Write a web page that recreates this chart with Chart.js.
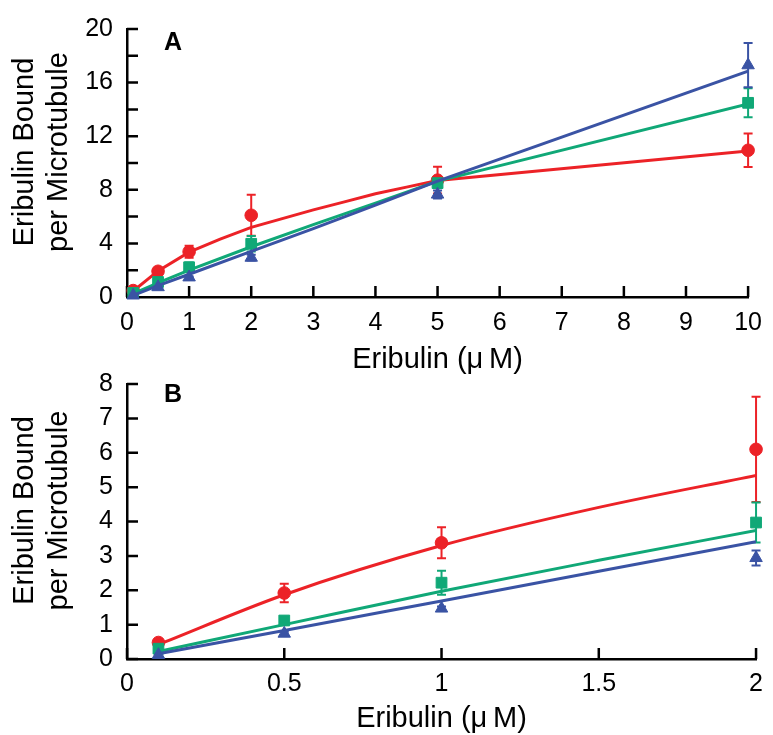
<!DOCTYPE html>
<html>
<head>
<meta charset="utf-8">
<title>Eribulin binding</title>
<script src="https://cdn.jsdelivr.net/npm/chart.js@4.4.1/dist/chart.umd.min.js"></script>
<style>
  html, body { margin: 0; padding: 0; background: #fff; }
  #wrap { position: relative; width: 773px; height: 735px; overflow: hidden; }
  canvas { position: absolute; left: 0; }
  #chartA { top: 0; }
  #chartB { top: 355px; }
</style>
</head>
<body>
<div id="wrap">
  <canvas id="chartA" width="773" height="380"></canvas>
  <canvas id="chartB" width="773" height="380"></canvas>
</div>
<script>
// measured points (mean +/- error), same for both panels
const conc = [0.1, 0.5, 1, 2, 5, 10];

const redMean = [0.48, 1.92, 3.38, 6.1, 8.72, 10.95];
const redErr = [0.05, 0.27, 0.45, 1.53, 1.0, 1.25];
const greenMean = [0.3, 1.12, 2.22, 3.97, 8.5, 14.49];
const greenErr = [0.05, 0.1, 0.35, 0.58, 0.3, 1.08];
const blueMean = [0.12, 0.74, 1.47, 2.94, 7.65, 17.3];
const blueErr = [0, 0.05, 0.06, 0.22, 0.3, 1.65];

// fitted curves
const redFitXA = [0.1, 0.5, 1, 1.5, 2, 2.5, 3, 3.5, 4, 4.5, 5, 10];
const redFitA = [0.45, 1.95, 3.35, 4.32, 5.2, 5.85, 6.5, 7.1, 7.7, 8.2, 8.7, 10.9];
const fitXA = [0.1, 0.5, 1, 2, 3, 4, 5, 10];
const greenFitA = [0.25, 1.05, 2.0, 3.75, 5.4, 7.0, 8.65, 14.4];
const blueFitA = [0.12, 0.85, 1.7, 3.4, 5.1, 6.85, 8.65, 16.85];

// fitted curves
const fitXB = [0.1, 0.5, 1, 1.5, 2];
const redFitB = [0.42, 1.87, 3.3, 4.41, 5.34];
const greenFitB = [0.22, 1.0, 1.97, 2.87, 3.74];
const blueFitB = [0.15, 0.83, 1.69, 2.55, 3.41];

const xTitle = 'Eribulin (μ\u2009M)';
const yTitle = ['Eribulin Bound', 'per Microtubule'];

const RED = '#ec2227';
const GREEN = '#10a877';
const BLUE = '#3a53a4';
const FONT = '"Liberation Sans", Arial, Helvetica, sans-serif';

Chart.defaults.font.family = FONT;
Chart.defaults.color = '#000';

// error bars drawn just before each marker dataset
const errorBars = {
    id: 'errorBars',
    beforeDatasetDraw(chart, args) {
        const ds = chart.data.datasets[args.index];
        if (!ds.errors) return;
        const ctx = chart.ctx;
        const ys = chart.scales.y;
        ctx.save();
        ctx.strokeStyle = ds.borderColor;
        ctx.lineWidth = 2;
        args.meta.data.forEach((pt, i) => {
            const e = ds.errors[i];
            if (!e) return;
            const v = ds.data[i].y;
            const top = ys.getPixelForValue(v + e);
            const bot = ys.getPixelForValue(v - e);
            ctx.beginPath();
            ctx.moveTo(pt.x, top); ctx.lineTo(pt.x, bot);
            ctx.moveTo(pt.x - 4.5, top); ctx.lineTo(pt.x + 4.5, top);
            ctx.moveTo(pt.x - 4.5, bot); ctx.lineTo(pt.x + 4.5, bot);
            ctx.stroke();
        });
        ctx.restore();
    }
};

// tick marks pointing into the plot
const innerTicks = {
    id: 'innerTicks',
    beforeDatasetsDraw(chart) {
        const {ctx, chartArea: a, scales: {x, y}} = chart;
        ctx.save();
        ctx.strokeStyle = '#000';
        ctx.lineWidth = 2.5;
        ctx.beginPath();
        x.ticks.forEach(t => {
            const p = x.getPixelForValue(t.value);
            ctx.moveTo(p, a.bottom); ctx.lineTo(p, a.bottom - 11);
        });
        y.ticks.forEach(t => {
            const p = y.getPixelForValue(t.value);
            ctx.moveTo(a.left, p); ctx.lineTo(a.left + 11, p);
        });
        ctx.stroke();
        ctx.restore();
    }
};

// panel letter (A / B) and the two-line rotated y title
const panelText = {
    id: 'panelText',
    afterDraw(chart, args, opts) {
        const {ctx, chartArea: a} = chart;
        ctx.save();
        ctx.fillStyle = '#000';
        ctx.textBaseline = 'alphabetic';
        ctx.font = 'bold 25px ' + FONT;
        ctx.fillText(opts.text, a.left + opts.dx, a.top + opts.dy);

        ctx.font = '29px ' + FONT;
        ctx.textAlign = 'center';
        ctx.translate(33, (a.top + a.bottom) / 2 - 11);
        ctx.rotate(-Math.PI / 2);
        yTitle.forEach((line, i) => ctx.fillText(line, 0, i * 34));
        ctx.restore();
    }
};

function fitSet(xs, ys, color, mode) {
    return {
        data: xs.map((x, i) => ({x: x, y: ys[i]})),
        showLine: true,
        borderColor: color,
        borderWidth: 3,
        pointRadius: 0,
        tension: 0,
        cubicInterpolationMode: mode
    };
}

function pointSet(ys, errs, color, style, radius, xmax) {
    const data = [];
    const errors = [];
    conc.forEach((x, i) => {
        if (x <= xmax) {
            data.push({x: x, y: ys[i]});
            errors.push(errs[i]);
        }
    });
    return {
        data: data,
        errors: errors,
        showLine: false,
        backgroundColor: color,
        borderColor: color,
        pointStyle: style,
        pointRadius: radius,
        pointBorderWidth: 1,
        clip: false
    };
}

function makeChart(id, p) {
    // red under green under blue: earlier dataset gets larger order
    const sets = [
        fitSet(p.redX, p.redFit, RED, p.mode),
        pointSet(redMean, redErr, RED, 'circle', 6.3, p.xmax),
        fitSet(p.fitX, p.greenFit, GREEN, p.mode),
        pointSet(greenMean, greenErr, GREEN, 'rect', 7.6, p.xmax),
        fitSet(p.fitX, p.blueFit, BLUE, p.mode),
        pointSet(blueMean, blueErr, BLUE, 'triangle', 7.2, p.xmax)
    ];
    sets.forEach((s, i) => { s.order = 100 - i; });

    return new Chart(document.getElementById(id), {
        type: 'scatter',
        data: { datasets: sets },
        options: {
            responsive: false,
            animation: false,
            events: [],
            layout: { padding: { top: p.padTop, right: 16, left: 0, bottom: p.padBottom } },
            plugins: {
                legend: { display: false },
                tooltip: { enabled: false },
                panelText: { text: p.label, dx: 37, dy: p.labelDy }
            },
            scales: {
                x: {
                    type: 'linear',
                    min: 0, max: p.xmax,
                    afterFit: s => { s.height = p.xHeight; },
                    grid: { display: true, drawOnChartArea: false, drawTicks: false },
                    border: { display: true, color: '#000', width: 2.5 },
                    ticks: { stepSize: p.xStep, autoSkip: false, maxRotation: 0, padding: p.xTickPad,
                             font: { size: 25 }, color: '#000', callback: v => String(v) },
                    title: { display: true, text: xTitle, font: { size: 29, lineHeight: 1 },
                             padding: { top: 0, bottom: p.xTitlePad }, color: '#000' }
                },
                y: {
                    type: 'linear',
                    min: 0, max: p.ymax,
                    afterFit: s => { s.width = 127; },
                    grid: { display: true, drawOnChartArea: false, drawTicks: false },
                    border: { display: true, color: '#000', width: 2.5 },
                    ticks: { stepSize: p.yStep, autoSkip: false, padding: 14, font: { size: 25 }, color: '#000',
                             callback: v => (v % p.yLabelEvery === 0 ? String(v) : '') }
                }
            }
        },
        plugins: [errorBars, innerTicks, panelText]
    });
}

makeChart('chartA', {
    label: 'A', labelDy: 21,
    xmax: 10, xStep: 1, ymax: 20, yStep: 2, yLabelEvery: 4,
    padTop: 21, padBottom: 3, xHeight: 80, xTickPad: 11, xTitlePad: 2.5,
    mode: 'default',
    redX: redFitXA, redFit: redFitA,
    fitX: fitXA, greenFit: greenFitA, blueFit: blueFitA
});

makeChart('chartB', {
    label: 'B', labelDy: 18,
    xmax: 2, xStep: 0.5, ymax: 8, yStep: 1, yLabelEvery: 1,
    padTop: 25, padBottom: 0, xHeight: 76, xTickPad: 10, xTitlePad: 2,
    mode: 'monotone',
    redX: fitXB, redFit: redFitB,
    fitX: fitXB, greenFit: greenFitB, blueFit: blueFitB
});
</script>
</body>
</html>
